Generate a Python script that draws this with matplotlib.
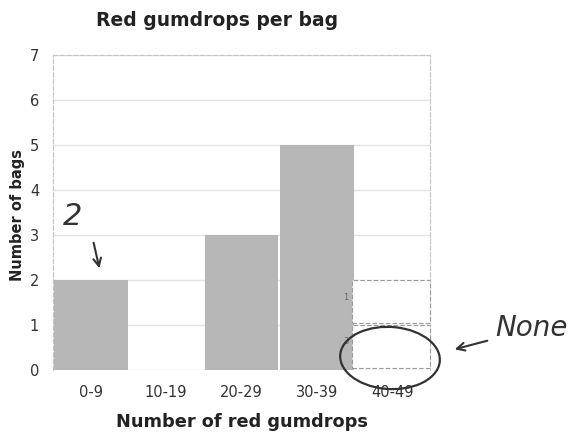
import matplotlib
matplotlib.use("Agg")
import matplotlib.pyplot as plt
from matplotlib.patches import Ellipse, FancyArrowPatch, Rectangle

categories = ["0-9", "10-19", "20-29", "30-39", "40-49"]
counts = [2, 0, 3, 5, 0]
yticks = [0, 1, 2, 3, 4, 5, 6, 7]

W, H = 575, 434
fig = plt.figure(figsize=(W / 100, H / 100), dpi=100)
ax = fig.add_axes([53 / W, 1 - 370 / H, (430 - 53) / W, (370 - 55) / H])

x = list(range(len(categories)))
ax.bar(x, counts, width=0.98, color="#b7b7b7", zorder=2)
ax.set_xlim(-0.5, len(categories) - 0.5)
ax.set_ylim(0, 7)
ax.set_yticks(yticks)
ax.set_xticks(x)
ax.set_xticklabels(categories)
ax.tick_params(axis="x", length=0, labelsize=10.5, colors="#333333", pad=11)
ax.tick_params(axis="y", length=0, labelsize=10.5, colors="#333333", pad=10)
ax.grid(axis="y", color="#e2e2e2", linewidth=1, zorder=0)
for s in ax.spines.values():
    s.set_color("#c4c4c4")
    s.set_linestyle((0, (4, 2)))
    s.set_linewidth(0.8)
ax.spines["bottom"].set_visible(False)

fig.text(217 / W, 1 - 20 / H, "Red gumdrops per bag", ha="center", va="center",
         fontsize=13.5, fontweight="bold", color="#222222")
fig.text(18 / W, 1 - 215 / H, "Number of bags", ha="center", va="center",
         rotation=90, fontsize=10.5, fontweight="bold", color="#222222")
fig.text(242 / W, 1 - 422 / H, "Number of red gumdrops", ha="center", va="center",
         fontsize=12.8, fontweight="bold", color="#222222")

# small overlay boxes at lower right of the plot
for y0, y1, lab in [(280, 323, "1"), (325, 368, "3")]:
    fig.patches.append(Rectangle((352 / W, 1 - y1 / H), 78 / W, (y1 - y0) / H,
                                 transform=fig.transFigure, fill=True,
                                 facecolor="white", edgecolor="#999999",
                                 linestyle=(0, (4, 2)), lw=0.8, zorder=3))
    fig.text(346 / W, 1 - (y0 + 17) / H, lab, ha="center", va="center",
             fontsize=6, color="#666666", zorder=4)

# handwritten annotations
fig.text(73 / W, 1 - 216 / H, "2", ha="center", va="center", fontsize=22,
         color="#333333", style="italic")
fig.patches.append(FancyArrowPatch((93 / W, 1 - 240 / H), (100 / W, 1 - 271 / H),
                                   transform=fig.transFigure, arrowstyle="->",
                                   mutation_scale=14, color="#333333", lw=1.5))
fig.text(532 / W, 1 - 328 / H, "None", ha="center", va="center", fontsize=20,
         color="#333333", style="italic")
fig.patches.append(FancyArrowPatch((490 / W, 1 - 340 / H), (452 / W, 1 - 350 / H),
                                   transform=fig.transFigure, arrowstyle="->",
                                   mutation_scale=14, color="#333333", lw=1.5))
fig.patches.append(Ellipse((390 / W, 1 - 358 / H), 100 / W, 62 / H, angle=-8,
                           transform=fig.transFigure, fill=False,
                           edgecolor="#333333", lw=1.6, zorder=5))

fig.savefig("out.png", dpi=100)
